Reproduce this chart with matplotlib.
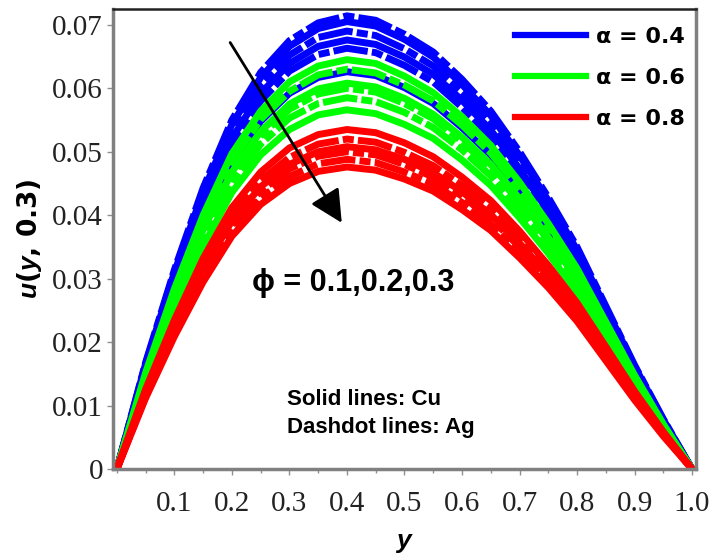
"""
Velocity profile u(y, 0.3) for Cu (solid) and Ag (dashdot) nanofluids,
three alpha values, phi = 0.1, 0.2, 0.3.
Output: out.png
"""
import numpy as np
import matplotlib
matplotlib.use("Agg")
import matplotlib.pyplot as plt
from matplotlib.lines import Line2D
from matplotlib.ticker import MultipleLocator, FixedLocator

# ── Data (u in units of 1e-4) ────────────────────────────────────────────────
y_pts = [0.0, 0.05, 0.1, 0.15, 0.2, 0.25, 0.3, 0.35, 0.4, 0.45, 0.5,
         0.55, 0.6, 0.65, 0.7, 0.75, 0.8, 0.85, 0.9, 0.95, 1.0]

alpha_labels = ["α = 0.4", "α = 0.6", "α = 0.8"]

# alpha = 0.4, phi = 0.1, 0.2, 0.3
cu_a04 = [
    [0, 166, 310, 437, 543, 617, 666, 694, 705, 698, 677, 649, 606, 557, 494, 423, 345, 254, 162, 78, 0],
    [0, 159, 297, 419, 521, 592, 639, 666, 676, 669, 649, 622, 581, 534, 473, 406, 331, 243, 155, 74, 0],
    [0, 147, 275, 388, 482, 548, 592, 617, 626, 620, 601, 576, 538, 495, 438, 376, 307, 225, 144, 69, 0],
]
ag_a04 = [
    [0, 168, 314, 443, 550, 625, 675, 703, 714, 707, 685, 657, 614, 564, 500, 428, 350, 257, 164, 79, 0],
    [0, 162, 304, 428, 531, 604, 652, 680, 690, 683, 662, 635, 593, 545, 483, 414, 338, 248, 159, 76, 0],
    [0, 156, 292, 411, 511, 580, 627, 653, 663, 656, 636, 610, 570, 524, 464, 398, 325, 239, 152, 73, 0],
]
# alpha = 0.6
cu_a06 = [
    [0, 152, 284, 400, 497, 564, 610, 635, 645, 639, 619, 593, 555, 510, 452, 387, 316, 232, 148, 71, 0],
    [0, 143, 268, 377, 468, 532, 575, 599, 608, 602, 584, 559, 523, 480, 426, 365, 298, 219, 140, 67, 0],
    [0, 133, 249, 351, 436, 495, 535, 558, 566, 560, 543, 521, 487, 447, 396, 340, 277, 204, 130, 62, 0],
]
ag_a06 = [
    [0, 148, 277, 391, 485, 551, 595, 621, 630, 624, 605, 580, 542, 498, 441, 378, 309, 227, 145, 69, 0],
    [0, 141, 264, 372, 462, 525, 567, 591, 600, 594, 576, 552, 516, 474, 420, 360, 294, 216, 138, 66, 0],
    [0, 137, 257, 363, 450, 512, 553, 576, 585, 579, 562, 538, 503, 462, 410, 351, 287, 211, 135, 64, 0],
]
# alpha = 0.8
cu_a08 = [
    [0, 126, 235, 332, 412, 468, 506, 527, 535, 530, 514, 492, 460, 423, 375, 321, 262, 193, 123, 59, 0],
    [0, 119, 224, 315, 391, 445, 480, 500, 508, 503, 488, 467, 437, 401, 356, 305, 249, 183, 117, 56, 0],
    [0, 112, 209, 295, 367, 417, 450, 469, 476, 471, 457, 438, 409, 376, 333, 286, 233, 171, 109, 52, 0],
]
ag_a08 = [
    [0, 122, 229, 322, 400, 455, 491, 512, 520, 515, 499, 478, 447, 411, 364, 312, 255, 187, 120, 57, 0],
    [0, 118, 220, 310, 385, 438, 473, 493, 500, 495, 480, 460, 430, 395, 350, 300, 245, 180, 115, 55, 0],
    [0, 115, 215, 303, 376, 427, 461, 481, 488, 483, 468, 449, 420, 386, 342, 293, 239, 176, 112, 54, 0],
]

x_ticks = [0.1, 0.2, 0.3, 0.4, 0.5, 0.6, 0.7, 0.8, 0.9, 1.0]
y_ticks = [0, 0.01, 0.02, 0.03, 0.04, 0.05, 0.06, 0.07]

COLORS = ["#0000ff", "#00ff00", "#ff0000"]
SANS = ["Liberation Sans", "DejaVu Sans"]
SERIF = "Liberation Serif"

plt.rcParams["mathtext.fontset"] = "custom"
plt.rcParams["mathtext.it"] = "Liberation Sans:italic:bold"
plt.rcParams["mathtext.rm"] = "Liberation Sans:bold"


def main():
    fig = plt.figure(figsize=(7.14, 5.54), dpi=100)
    ax = fig.add_axes([0.158, 0.153, 0.817, 0.831])

    y = np.array(y_pts)
    groups = [(cu_a04, ag_a04), (cu_a06, ag_a06), (cu_a08, ag_a08)]
    dashdot = (0, (5, 0.6, 1.6, 0.6))
    for color, (cu, ag) in zip(COLORS, groups):
        for k in range(3):
            ax.plot(y, np.array(cu[k]) * 1e-4, color=color, lw=5,
                    solid_capstyle="butt")
            ax.plot(y, np.array(ag[k]) * 1e-4, color=color, lw=5,
                    linestyle=dashdot, dash_capstyle="butt")

    ax.set_xlim(-0.007, 1.007)
    ax.set_ylim(0, 0.0725)

    # ── ticks / spines ───────────────────────────────────────────────────────
    ax.xaxis.set_major_locator(FixedLocator(x_ticks))
    ax.xaxis.set_minor_locator(MultipleLocator(0.05))
    ax.set_xticklabels([f"{v:.1f}" for v in x_ticks])
    ax.set_yticks(y_ticks)
    ax.set_yticklabels(["0"] + [f"{v:.2f}" for v in y_ticks[1:]])
    for lab in ax.get_xticklabels() + ax.get_yticklabels():
        lab.set_fontfamily(SERIF)
        lab.set_fontsize(21)
        lab.set_color("#222222")
    ax.tick_params(which="both", direction="out", color="#909090", width=1)
    ax.tick_params(axis="x", which="major", length=4, pad=12)
    ax.tick_params(axis="x", which="minor", length=3)
    ax.tick_params(axis="y", which="major", length=4, pad=3)
    for side in ["left", "bottom", "right"]:
        ax.spines[side].set_color("#808080")
        ax.spines[side].set_linewidth(2.5)
    ax.spines["top"].set_color("#222222")
    ax.spines["top"].set_linewidth(1.8)

    ax.set_xlabel(r"$y$", fontsize=19, labelpad=8)
    ax.set_ylabel(r"$u$($y$, 0.3)", fontsize=19, fontweight="bold", labelpad=6)

    # ── legend ───────────────────────────────────────────────────────────────
    handles = [Line2D([], [], color=c, lw=4.5) for c in COLORS]
    ax.legend(handles, alpha_labels, loc="upper right", frameon=False,
              bbox_to_anchor=(1.0, 0.985),
              prop=dict(family="DejaVu Sans", weight="bold", size=16),
              handlelength=3.2, handletextpad=0.45, labelspacing=0.95,
              borderaxespad=0.0, borderpad=0.5)

    # ── annotations ──────────────────────────────────────────────────────────
    ax.annotate("", xy=(0.391, 0.0388), xytext=(0.197, 0.0672),
                arrowprops=dict(arrowstyle="-|>,head_length=0.4,head_width=0.2",
                                mutation_scale=50, lw=2, color="black",
                                shrinkA=0, shrinkB=0))
    ax.text(0.235, 0.0293, "ϕ = 0.1,0.2,0.3", family=SANS, weight="bold",
            fontsize=22, va="center", ha="left")
    ax.text(0.296, 0.0110, "Solid lines: Cu", family=SANS, weight="bold",
            fontsize=16, va="center", ha="left")
    ax.text(0.296, 0.0065, "Dashdot lines: Ag", family=SANS, weight="bold",
            fontsize=16, va="center", ha="left")

    fig.savefig("out.png", dpi=100, facecolor="white")


if __name__ == "__main__":
    main()
